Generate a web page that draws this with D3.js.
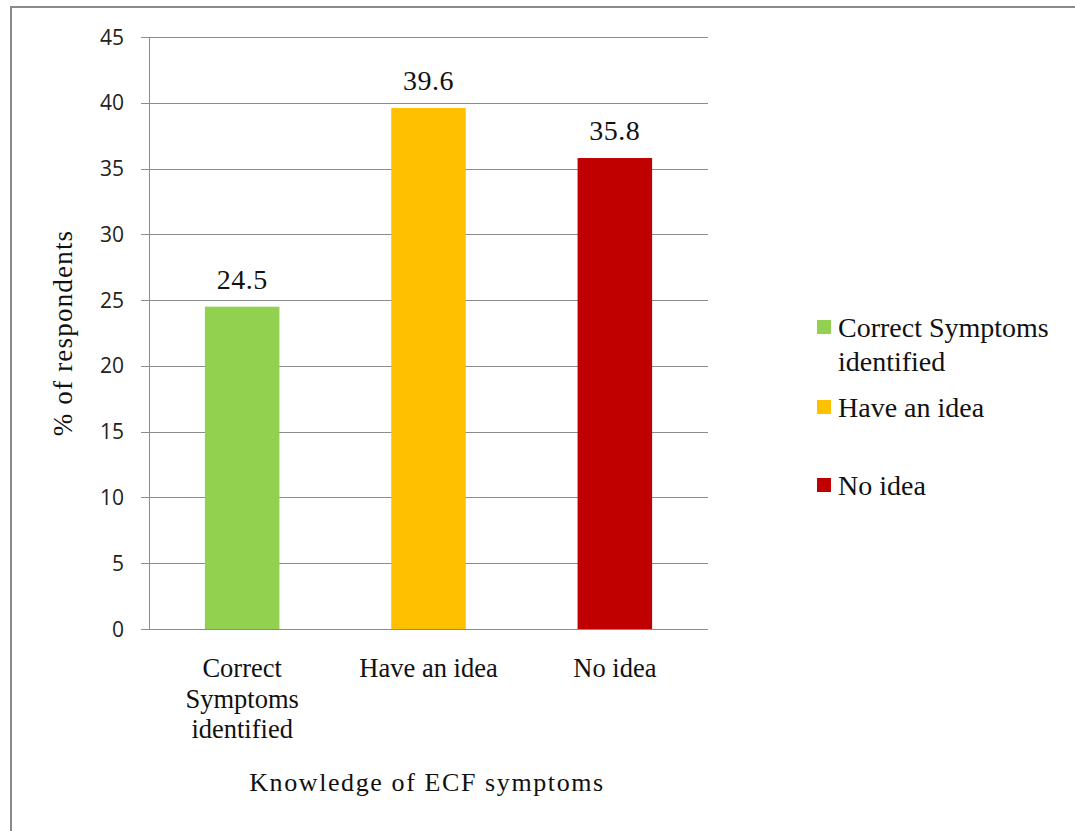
<!DOCTYPE html>
<html>
<head>
<meta charset="utf-8">
<script src="https://cdn.jsdelivr.net/npm/d3@7"></script>
<style>
  html, body { margin: 0; padding: 0; background: #fff; }
  svg { display: block; }
</style>
</head>
<body>
<div id="chart"></div>
<script>
// Knowledge of ECF symptoms among respondents
const categories = ["Correct Symptoms identified", "Have an idea", "No idea"];
const axisLabelLines = [["Correct", "Symptoms", "identified"], ["Have an idea"], ["No idea"]];
const legendLines = [["Correct Symptoms", "identified"], ["Have an idea"], ["No idea"]];
const values = [24.5, 39.6, 35.8];
const colors = ["#92D050", "#FFC000", "#C00000"];
const yTicks = [0, 5, 10, 15, 20, 25, 30, 35, 40, 45];

const W = 1075, H = 831;
const plot = { left: 149, right: 708, top: 37, bottom: 629 };
const serif = "'Liberation Serif', 'Times New Roman', serif";
const sans = "'Open Sans', 'DejaVu Sans', sans-serif";

const svg = d3.select("#chart").append("svg")
  .attr("width", W).attr("height", H);

// outer frame
svg.append("rect")
  .attr("x", 11).attr("y", 7)
  .attr("width", W + 20).attr("height", H + 20)
  .attr("fill", "#fff").attr("stroke", "#8a8a8a").attr("stroke-width", 2);

const x = d3.scaleBand().domain(categories)
  .range([plot.left, plot.right]).paddingInner(0.6).paddingOuter(0.3);
const y = d3.scaleLinear().domain([0, 45]).range([plot.bottom, plot.top]);

// gridlines
svg.append("g").selectAll("line").data(yTicks).join("line")
  .attr("x1", plot.left - 8).attr("x2", plot.right)
  .attr("y1", d => Math.round(y(d)) + 0.5).attr("y2", d => Math.round(y(d)) + 0.5)
  .attr("stroke", "#8c8c8c").attr("stroke-width", 1);

// y axis line
svg.append("line")
  .attr("x1", plot.left + 0.5).attr("x2", plot.left + 0.5)
  .attr("y1", plot.top).attr("y2", plot.bottom)
  .attr("stroke", "#8c8c8c");

// y tick labels
svg.append("g").selectAll("text").data(yTicks).join("text")
  .attr("x", 124).attr("y", d => y(d))
  .attr("dy", "0.36em").attr("text-anchor", "end")
  .attr("font-family", sans).attr("font-size", 21).attr("fill", "#222")
  .text(d => d);

// bars
svg.append("g").selectAll("rect").data(values).join("rect")
  .attr("x", (d, i) => x(categories[i]))
  .attr("width", x.bandwidth())
  .attr("y", d => y(d))
  .attr("height", d => y(0) - y(d))
  .attr("fill", (d, i) => colors[i]);

// value labels
svg.append("g").selectAll("text").data(values).join("text")
  .attr("x", (d, i) => x(categories[i]) + x.bandwidth() / 2)
  .attr("y", d => y(d) - 18)
  .attr("text-anchor", "middle")
  .attr("font-family", serif).attr("font-size", 28).attr("letter-spacing", 0.5)
  .attr("fill", "#111")
  .text(d => d.toFixed(1));

// category labels
const catG = svg.append("g");
categories.forEach((c, i) => {
  const cx = x(c) + x.bandwidth() / 2;
  const t = catG.append("text")
    .attr("x", cx).attr("y", 677)
    .attr("text-anchor", "middle")
    .attr("font-family", serif).attr("font-size", 26.5).attr("fill", "#111");
  axisLabelLines[i].forEach((line, j) => {
    t.append("tspan").attr("x", cx)
      .attr("dy", j === 0 ? 0 : 30.5).text(line);
  });
});

// axis titles
svg.append("text")
  .attr("x", 427).attr("y", 791)
  .attr("text-anchor", "middle")
  .attr("font-family", serif).attr("font-size", 26).attr("letter-spacing", 1.6)
  .attr("fill", "#111")
  .text("Knowledge of ECF symptoms");

svg.append("text")
  .attr("transform", `translate(72, 333) rotate(-90)`)
  .attr("text-anchor", "middle")
  .attr("font-family", serif).attr("font-size", 27).attr("letter-spacing", 1.2)
  .attr("fill", "#111")
  .text("% of respondents");

// legend
const legendY = [337, 417, 495];
const leg = svg.append("g");
legendLines.forEach((lines, i) => {
  leg.append("rect")
    .attr("x", 817).attr("y", legendY[i] - 17)
    .attr("width", 14).attr("height", 14)
    .attr("fill", colors[i]);
  const t = leg.append("text")
    .attr("x", 838).attr("y", legendY[i])
    .attr("font-family", serif).attr("font-size", 28).attr("fill", "#111");
  lines.forEach((line, j) => {
    t.append("tspan").attr("x", 838).attr("dy", j === 0 ? 0 : 34).text(line);
  });
});
</script>
</body>
</html>
